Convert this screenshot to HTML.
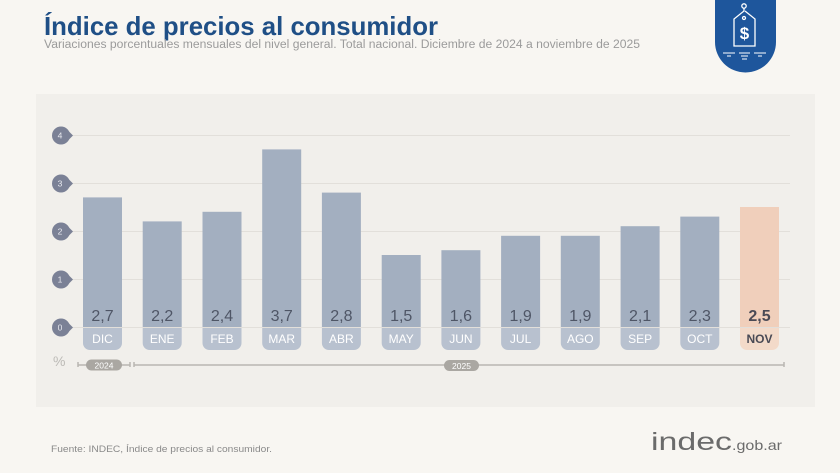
<!DOCTYPE html>
<html><head><meta charset="utf-8"><style>
html,body{margin:0;padding:0;background:#f7f5f1;}
svg{display:block;}
text{font-family:"Liberation Sans",Arial,sans-serif;}
</style></head><body>
<svg width="840" height="473" viewBox="0 0 840 473" xmlns="http://www.w3.org/2000/svg">
<rect x="0" y="0" width="840" height="473" fill="#f8f6f2"/>
<!-- title -->
<text x="44" y="35" font-size="26" font-weight="bold" fill="#1f4f86" textLength="394" lengthAdjust="spacingAndGlyphs">Índice de precios al consumidor</text>
<text x="44" y="48" font-size="11.5" fill="#9b9b9b" textLength="596" lengthAdjust="spacingAndGlyphs">Variaciones porcentuales mensuales del nivel general. Total nacional. Diciembre de 2024 a noviembre de 2025</text>
<!-- icon -->
<path d="M715 -2 H776 V42 A30.5 30.5 0 0 1 715 42 Z" fill="#1e569c"/>
<g fill="none" stroke="#ffffff" stroke-width="1.3">
<circle cx="744" cy="6" r="2.2"/>
<path d="M744 8 L744 11 L734 19 L734 46 L755 46 L755 19 L745 11"/>
<circle cx="744" cy="18" r="1.5"/>
</g>
<text x="744.5" y="39" font-size="17" font-weight="bold" fill="#ffffff" text-anchor="middle">$</text>
<g stroke="#ffffff" stroke-width="1">
<line x1="723" y1="53" x2="735" y2="53"/><line x1="739" y1="53" x2="750" y2="53"/><line x1="754" y1="53" x2="766" y2="53"/>
<line x1="727" y1="56" x2="731" y2="56"/><line x1="741" y1="56" x2="748" y2="56"/><line x1="758" y1="56" x2="762" y2="56"/>
<line x1="742" y1="59" x2="747" y2="59"/>
</g>
<!-- panel -->
<rect x="36" y="94" width="779" height="313" fill="#f1efeb"/>
<!-- gridlines -->
<g stroke="#e2dfda" stroke-width="1">
<line x1="70" y1="135.5" x2="790" y2="135.5"/>
<line x1="70" y1="183.5" x2="790" y2="183.5"/>
<line x1="70" y1="231.5" x2="790" y2="231.5"/>
<line x1="70" y1="279.5" x2="790" y2="279.5"/>
<line x1="70" y1="327.5" x2="790" y2="327.5"/>
</g>
<!-- tick badges -->
<g fill="#7b8196">
<circle cx="61" cy="135.5" r="9"/><path d="M66 128.5 L73 135.5 L66 142.5 Z"/>
<circle cx="61" cy="183.5" r="9"/><path d="M66 176.5 L73 183.5 L66 190.5 Z"/>
<circle cx="61" cy="231.5" r="9"/><path d="M66 224.5 L73 231.5 L66 238.5 Z"/>
<circle cx="61" cy="279.5" r="9"/><path d="M66 272.5 L73 279.5 L66 286.5 Z"/>
<circle cx="61" cy="327.5" r="9"/><path d="M66 320.5 L73 327.5 L66 334.5 Z"/>
</g>
<g fill="#e8e9ef" font-size="8.5" text-anchor="middle">
<text x="60" y="138.5">4</text><text x="60" y="186.5">3</text><text x="60" y="234.5">2</text><text x="60" y="282.5">1</text><text x="60" y="330.5">0</text>
</g>
<!-- bars -->
<g fill="#a3afc0">
<rect x="83" y="197.4" width="39" height="129.6"/>
<rect x="142.7" y="221.4" width="39" height="105.6"/>
<rect x="202.5" y="211.8" width="39" height="115.2"/>
<rect x="262.2" y="149.4" width="39" height="177.6"/>
<rect x="321.9" y="192.6" width="39" height="134.4"/>
<rect x="381.7" y="255" width="39" height="72"/>
<rect x="441.4" y="250.2" width="39" height="76.8"/>
<rect x="501.1" y="235.8" width="39" height="91.2"/>
<rect x="560.8" y="235.8" width="39" height="91.2"/>
<rect x="620.6" y="226.2" width="39" height="100.8"/>
<rect x="680.3" y="216.6" width="39" height="110.4"/>
</g>
<rect x="740" y="207" width="39" height="120" fill="#f0cfbb"/>
<!-- label boxes -->
<g fill="#b8c1cf">
<path d="M83 328 h39 v15 a7 7 0 0 1 -7 7 h-25 a7 7 0 0 1 -7 -7 Z"/>
<path d="M142.7 328 h39 v15 a7 7 0 0 1 -7 7 h-25 a7 7 0 0 1 -7 -7 Z"/>
<path d="M202.5 328 h39 v15 a7 7 0 0 1 -7 7 h-25 a7 7 0 0 1 -7 -7 Z"/>
<path d="M262.2 328 h39 v15 a7 7 0 0 1 -7 7 h-25 a7 7 0 0 1 -7 -7 Z"/>
<path d="M321.9 328 h39 v15 a7 7 0 0 1 -7 7 h-25 a7 7 0 0 1 -7 -7 Z"/>
<path d="M381.7 328 h39 v15 a7 7 0 0 1 -7 7 h-25 a7 7 0 0 1 -7 -7 Z"/>
<path d="M441.4 328 h39 v15 a7 7 0 0 1 -7 7 h-25 a7 7 0 0 1 -7 -7 Z"/>
<path d="M501.1 328 h39 v15 a7 7 0 0 1 -7 7 h-25 a7 7 0 0 1 -7 -7 Z"/>
<path d="M560.8 328 h39 v15 a7 7 0 0 1 -7 7 h-25 a7 7 0 0 1 -7 -7 Z"/>
<path d="M620.6 328 h39 v15 a7 7 0 0 1 -7 7 h-25 a7 7 0 0 1 -7 -7 Z"/>
<path d="M680.3 328 h39 v15 a7 7 0 0 1 -7 7 h-25 a7 7 0 0 1 -7 -7 Z"/>
</g>
<path d="M740 328 h39 v15 a7 7 0 0 1 -7 7 h-25 a7 7 0 0 1 -7 -7 Z" fill="#f3dac9"/>
<!-- values -->
<g font-size="16" fill="#4f5666" text-anchor="middle">
<text x="102.5" y="321">2,7</text>
<text x="162.2" y="321">2,2</text>
<text x="222" y="321">2,4</text>
<text x="281.7" y="321">3,7</text>
<text x="341.4" y="321">2,8</text>
<text x="401.2" y="321">1,5</text>
<text x="460.9" y="321">1,6</text>
<text x="520.6" y="321">1,9</text>
<text x="580.3" y="321">1,9</text>
<text x="640.1" y="321">2,1</text>
<text x="699.8" y="321">2,3</text>
</g>
<text x="759.5" y="321" font-size="16" font-weight="bold" fill="#4a4a55" text-anchor="middle">2,5</text>
<!-- months -->
<g font-size="12" fill="#ffffff" text-anchor="middle">
<text x="102.5" y="343">DIC</text>
<text x="162.2" y="343">ENE</text>
<text x="222" y="343">FEB</text>
<text x="281.7" y="343">MAR</text>
<text x="341.4" y="343">ABR</text>
<text x="401.2" y="343">MAY</text>
<text x="460.9" y="343">JUN</text>
<text x="520.6" y="343">JUL</text>
<text x="580.3" y="343">AGO</text>
<text x="640.1" y="343">SEP</text>
<text x="699.8" y="343">OCT</text>
</g>
<text x="759.5" y="343" font-size="12" font-weight="bold" fill="#4a4a55" text-anchor="middle">NOV</text>
<!-- percent & year axis -->
<text x="53" y="366" font-size="14" fill="#bcbab6">%</text>
<g stroke="#b9b6b1" stroke-width="1.5">
<line x1="78" y1="365" x2="130" y2="365"/>
<line x1="78" y1="362" x2="78" y2="367"/>
<line x1="130" y1="362" x2="130" y2="367"/>
<line x1="134" y1="365" x2="784" y2="365"/>
<line x1="134" y1="362" x2="134" y2="367"/>
<line x1="784" y1="362" x2="784" y2="367"/>
</g>
<rect x="86" y="359.5" width="36" height="11" rx="5.5" fill="#aaa7a2"/>
<rect x="444" y="360" width="35" height="11" rx="5.5" fill="#aaa7a2"/>
<g font-size="8.5" fill="#ffffff" text-anchor="middle">
<text x="104" y="368.5">2024</text>
<text x="461.5" y="369">2025</text>
</g>
<!-- footer -->
<text x="51" y="452" font-size="9.5" fill="#8a8a8a" textLength="221" lengthAdjust="spacingAndGlyphs">Fuente: INDEC, Índice de precios al consumidor.</text>
<text x="651" y="450" font-size="25" fill="#6b6b6b" textLength="81" lengthAdjust="spacingAndGlyphs">indec</text>
<text x="732" y="450" font-size="14" fill="#6b6b6b" textLength="50" lengthAdjust="spacingAndGlyphs">.gob.ar</text>
</svg>
</body></html>
